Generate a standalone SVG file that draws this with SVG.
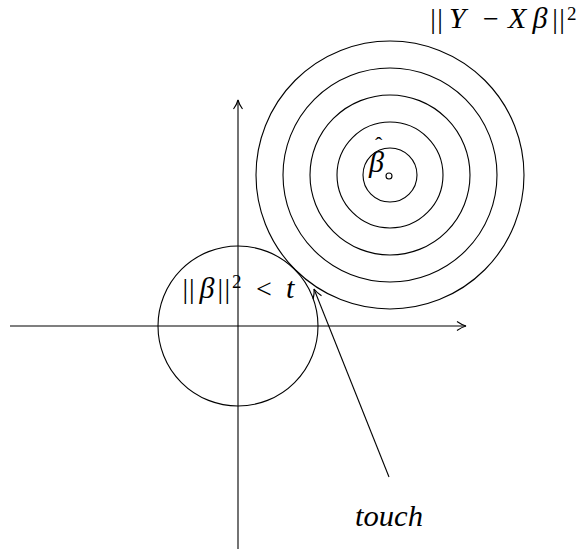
<svg xmlns="http://www.w3.org/2000/svg" width="579" height="552" viewBox="0 0 579 552">
<style>
.ln{fill:none;stroke:#000;stroke-width:1.1}
.t{font-family:"Liberation Serif","DejaVu Serif",serif;font-size:28px;fill:#000}
.i{font-style:italic;font-size:30px}
.s{font-size:19px}
</style>
<defs>
<marker id="ah" viewBox="-10 -6 12 12" refX="0" refY="0" markerWidth="12" markerHeight="12" markerUnits="userSpaceOnUse" orient="auto">
<path d="M-9,-4.5 Q-4,-1 0,0 Q-4,1 -9,4.5" fill="none" stroke="#000" stroke-width="1.1"/>
</marker>
</defs>
<rect width="579" height="552" fill="#fff"/>
<g id="connectors">
<line class="ln" x1="10" y1="326" x2="466" y2="326" marker-end="url(#ah)"/>
<line class="ln" x1="238" y1="549" x2="238" y2="100" marker-end="url(#ah)"/>
<line class="ln" x1="389" y1="477" x2="314" y2="289" marker-end="url(#ah)"/>
</g>
<g id="constraint">
<circle class="ln" cx="238" cy="326" r="80"/>
<text class="t" y="298"><tspan x="182.5">|</tspan><tspan x="189">|</tspan><tspan class="i" x="199.5">β</tspan><tspan x="217.5">|</tspan><tspan x="224.5">|</tspan><tspan class="s" x="232" y="288">2</tspan><tspan x="256" y="298">&lt;</tspan><tspan class="i" x="286">t</tspan></text>
</g>
<g id="contours">
<circle class="ln" cx="390" cy="175" r="134"/>
<circle class="ln" cx="390" cy="175" r="107"/>
<circle class="ln" cx="390" cy="175" r="80"/>
<circle class="ln" cx="390" cy="175" r="53"/>
<circle class="ln" cx="390" cy="175" r="27"/>
<circle class="ln" cx="389" cy="176" r="3"/>
<text class="t" y="172"><tspan class="i" x="369">β</tspan><tspan font-size="22" x="375" y="152">ˆ</tspan></text>
<text class="t" y="28"><tspan x="430.2">|</tspan><tspan x="437.2">|</tspan><tspan class="i" x="449">Y</tspan><tspan x="483">−</tspan><tspan class="i" x="508">X</tspan><tspan class="i" x="532.5">β</tspan><tspan x="552.2">|</tspan><tspan x="559.2">|</tspan><tspan class="s" x="567" y="20">2</tspan></text>
</g>
<g id="touch">
<text class="t i" x="355" y="526" textLength="68" lengthAdjust="spacingAndGlyphs">touch</text>
</g>
</svg>
